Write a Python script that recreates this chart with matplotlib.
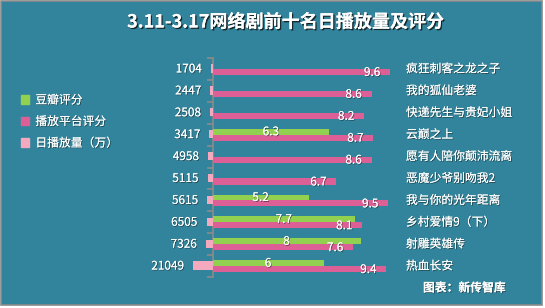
import matplotlib
matplotlib.use("Agg")
import matplotlib.pyplot as plt
import matplotlib.patches as patches
import matplotlib.patheffects as pe
import numpy as np

plt.rcParams['font.family'] = ['Noto Sans CJK SC', 'DejaVu Sans']

names = ['疯狂刺客之龙之子', '我的狐仙老婆', '快递先生与贵妃小姐', '云巅之上',
         '愿有人陪你颠沛流离', '恶魔少爷别吻我2', '我与你的光年距离',
         '乡村爱情9（下）', '射雕英雄传', '热血长安']
plays = [1704, 2447, 2508, 3417, 4958, 5115, 5615, 6505, 7326, 21049]
douban = [None, None, None, 6.3, None, None, 5.2, 7.7, 8, 6]
platform = [9.6, 8.6, 8.2, 8.7, 8.6, 6.7, 9.5, 8.1, 7.6, 9.4]

BG = '#31849b'
GREEN = '#92d050'
PINK = '#dc5f96'
LIGHT = '#f4a9be'
AXIS = '#8c8c8c'

W, H = 545, 308
fig = plt.figure(figsize=(W / 100, H / 100), dpi=100, facecolor='white')

# panel background with grey frame
fig.patches.append(patches.Rectangle((0.5 / W, 3.5 / H), 541.5 / W, 304 / H,
                                     transform=fig.transFigure, facecolor=BG,
                                     edgecolor='#8a8a8a', linewidth=1.2, zorder=-10))

x0, x1 = 150, 400      # axes pixel extent
zero = 212.5           # pixel of the value axis
ppu = 18.5             # pixels per rating unit
ppc = 1 / 1090.0       # pixels per play count
top, bot = 58, 277

ax = fig.add_axes([x0 / W, (H - bot) / H, (x1 - x0) / W, (bot - top) / H])
ax.set_facecolor('none')
ax.set_xlim(-(zero - x0) / ppu, (x1 - zero) / ppu)
ax.set_ylim(len(names) - 0.5, -0.5)

ax2 = ax.twiny()
ax2.set_xlim((zero - x0) / ppc, -(x1 - zero) / ppc)

y = np.arange(len(names))
txt = dict(color='white', fontsize=8.5)
shadow = [pe.withSimplePatchShadow(offset=(0.6, -0.6), shadow_rgbFace='#1a1a1a', alpha=0.6), pe.Normal()]

# play counts (secondary, leftward)
ax2.barh(y - 0.02, plays, height=0.38, color=LIGHT, zorder=2)
for yi, v in zip(y, plays):
    ax2.annotate(str(v), (v, yi), xytext=(-6.5, 0), textcoords='offset points',
                 ha='right', va='center', path_effects=shadow, **txt)

# ratings
gy = [yi - 0.13 for yi, v in zip(y, douban) if v is not None]
gv = [v for v in douban if v is not None]
ax.barh(gy, gv, height=0.27, color=GREEN, zorder=3)
for yi, v in zip(gy, gv):
    ax.annotate(f'{v:g}', (v / 2, yi), ha='center', va='center',
                path_effects=shadow, zorder=5, **txt)

ax.barh(y + 0.14, platform, height=0.28, color=PINK, zorder=3)
for yi, v in zip(y, platform):
    ax.annotate(f'{v:g}', (v, yi + 0.16), xytext=(-13, 0), textcoords='offset points',
                ha='center', va='center', path_effects=shadow, zorder=5, **txt)

for yi, n in zip(y, names):
    ax.annotate(n, (1, yi), xycoords=ax.get_yaxis_transform(), xytext=(4.3, 0),
                textcoords='offset points', ha='left', va='center',
                path_effects=shadow, annotation_clip=False, **txt)

for a in (ax, ax2):
    for s in a.spines.values():
        s.set_visible(False)
    a.set_xticks([])
ax.spines['left'].set_visible(True)
ax.spines['left'].set_position(('data', 0))
ax.spines['left'].set_color(AXIS)
ax.spines['left'].set_linewidth(1.2)
ax.set_yticks(np.arange(-0.5, len(names), 1))
ax.set_yticklabels([])
ax.tick_params(axis='y', direction='out', length=4, color=AXIS, width=1.2)

# legend
handles = [patches.Patch(color=GREEN, label='豆瓣评分'),
           patches.Patch(color=PINK, label='播放平台评分'),
           patches.Patch(color=LIGHT, label='日播放量（万）')]
leg = fig.legend(handles=handles, loc='upper left', bbox_to_anchor=(10 / W, 1 - 83 / H),
                 frameon=False, handlelength=0.75, handleheight=0.75,
                 handletextpad=0.5, labelspacing=0.72, fontsize=8.5)
for t in leg.get_texts():
    t.set_color('white')
    t.set_path_effects(shadow)

fig.text(285 / W, 1 - 22 / H, '3.11-3.17网络剧前十名日播放量及评分', ha='center',
         va='center', color='white', fontsize=13, fontweight='bold',
         path_effects=[pe.withSimplePatchShadow(offset=(1, -1), shadow_rgbFace='#111111', alpha=0.8), pe.Normal()])
fig.text(423 / W, 1 - 288 / H, '图表：新传智库', ha='left', va='center',
         color='white', fontsize=8.5, fontweight='bold', path_effects=shadow)

fig.savefig('out.png', dpi=100, facecolor=fig.get_facecolor())
